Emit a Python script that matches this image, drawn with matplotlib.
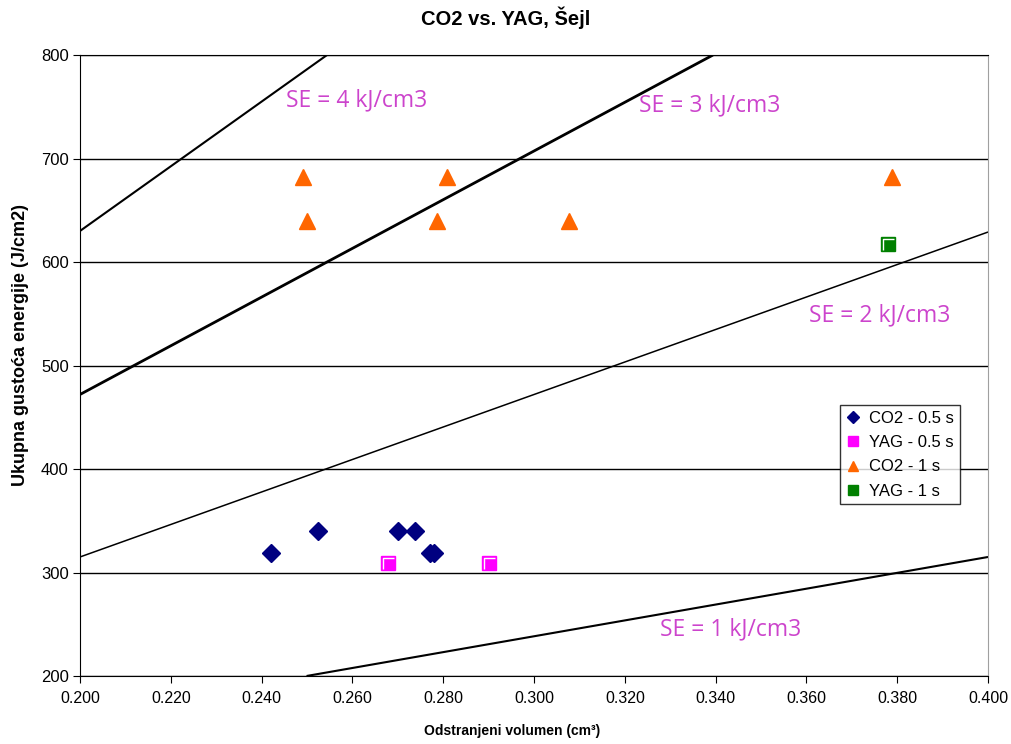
import matplotlib
matplotlib.use("Agg")
import matplotlib.pyplot as plt
from matplotlib.path import Path
import numpy as np

plt.rcParams["font.family"] = ["Liberation Sans", "DejaVu Sans"]

# CO2 - 0.5 s
co2_05_x = [0.242, 0.2524, 0.270, 0.2738, 0.2771, 0.2780]
co2_05_y = [319, 340, 340, 340, 319, 319]
# YAG - 0.5 s
yag_05_x = [0.2678, 0.2901]
yag_05_y = [309, 309]
# CO2 - 1 s
co2_1_x = [0.2492, 0.2499, 0.2809, 0.2786, 0.3078, 0.3788]
co2_1_y = [682, 640, 682, 640, 640, 682]
# YAG - 1 s
yag_1_x = [0.3779]
yag_1_y = [617]

# specific energy guide lines (drawn by hand in the original), end points
se_x = [(0.2499, 0.4), (0.2, 0.4), (0.2, 0.3394), (0.2, 0.2544)]
se_y = [(200, 315), (315, 629), (472, 800), (630, 800)]
se_widths = [1.5, 1.1, 2.0, 1.5]
se_labels = ["SE = 1 kJ/cm3", "SE = 2 kJ/cm3", "SE = 3 kJ/cm3", "SE = 4 kJ/cm3"]
se_label_pos = [(0.3432, 245), (0.3762, 548), (0.3388, 751), (0.261, 756)]

# white highlight inside the square markers
hl = Path([(-0.6, -0.7), (-0.6, 0.6), (0.7, 0.6)],
          [Path.MOVETO, Path.LINETO, Path.LINETO])

fig = plt.figure(figsize=(10.11, 7.44), dpi=100)
ax = fig.add_axes([0.0791, 0.0914, 0.8982, 0.8346])

for xs, ys, lw in zip(se_x, se_y, se_widths):
    ax.plot(xs, ys, color="black", lw=lw, zorder=2, solid_capstyle="butt")
for lbl, (lx, ly) in zip(se_labels, se_label_pos):
    ax.text(lx, ly, lbl, color="#CC44CC", fontsize=16.5, family="Open Sans",
            ha="center", va="center")

ax.plot(co2_05_x, co2_05_y, "D", color="#000080", ms=9, mec="#000080",
        ls="none", label="CO2 - 0.5 s", zorder=4)
ax.plot(yag_05_x, yag_05_y, "s", mfc="#FF00FF", mec="#FF00FF", ms=10,
        ls="none", label="YAG - 0.5 s", zorder=4)
ax.plot(yag_05_x, yag_05_y, marker=hl, mfc="none", mec="white", ms=8, mew=1.0,
        ls="none", zorder=5)
ax.plot(co2_1_x, co2_1_y, "^", color="#FF6600", ms=11,
        ls="none", label="CO2 - 1 s", zorder=4)
ax.plot(yag_1_x, yag_1_y, "s", mfc="#008000", mec="#008000", ms=10,
        ls="none", label="YAG - 1 s", zorder=4)
ax.plot(yag_1_x, yag_1_y, marker=hl, mfc="none", mec="white", ms=8, mew=1.0,
        ls="none", zorder=5)

ax.set_xlim(0.2, 0.4)
ax.set_ylim(200, 800)
xt = np.arange(0.2, 0.4001, 0.02)
ax.set_xticks(xt)
ax.set_xticklabels([f"{v:.3f}" for v in xt])
ax.set_yticks(range(200, 801, 100))
ax.tick_params(axis="x", labelsize=11.5, direction="out", length=5, pad=6)
ax.tick_params(axis="y", labelsize=12, direction="out", length=5, pad=3)
ax.yaxis.grid(True, color="black", lw=1)
ax.set_axisbelow(True)
ax.spines["right"].set_color("#A0A0A0")
ax.spines["top"].set_color("black")

# titles are placed on the figure, not centred on the axes
fig.text(0.5, 1 - 18 / 744, "CO2 vs. YAG, Šejl", fontsize=14.5,
         fontweight="bold", ha="center", va="center")
fig.text(512 / 1011, 1 - 731 / 744, "Odstranjeni volumen (cm³)", fontsize=10,
         fontweight="bold", ha="center", va="center")
fig.text(21 / 1011, 1 - 345 / 744, "Ukupna gustoća energije (J/cm2)",
         fontsize=13, fontweight="bold", rotation=90, ha="center", va="center")

leg = ax.legend(loc="upper left", bbox_to_anchor=(0.837, 0.436), fontsize=12,
                frameon=True, fancybox=False, edgecolor="black",
                borderaxespad=0, handlelength=0.8, handletextpad=0.6,
                borderpad=0.35, labelspacing=0.55, markerscale=0.7)
leg.get_frame().set_linewidth(1)

fig.savefig("out.png", dpi=100)
